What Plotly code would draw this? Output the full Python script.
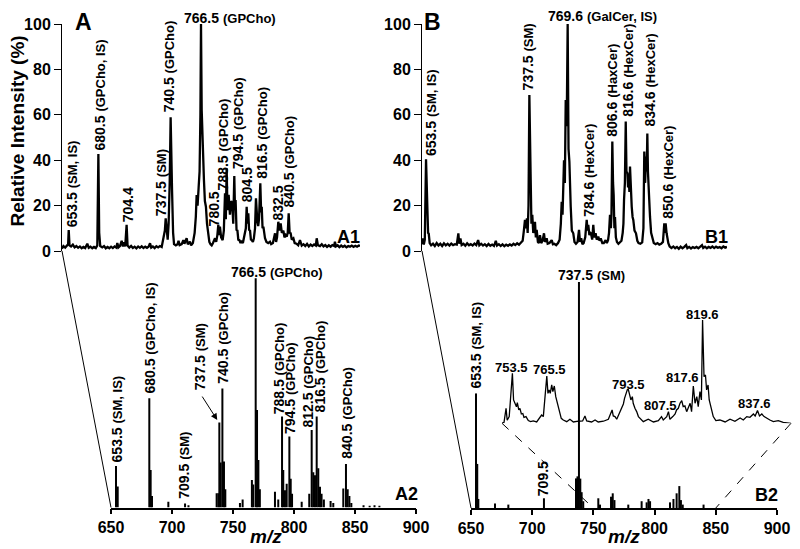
import plotly.graph_objects as go

# ---------------- DATA ----------------
# A1 profile spectrum (m/z, relative intensity %)
a1_mz = [647.8, 649, 650.5, 652, 653, 653.5, 654.2, 655.5, 657, 658.5, 660, 661.5, 663, 664.5, 666, 667.5,
         669.3, 670.5, 672, 673.5, 675, 676.5, 677.8, 678.7, 679.4, 680.3, 682, 683.5, 685, 686.5, 688, 689.5,
         691, 692.5, 694, 694.8, 695.8, 697, 698.5, 699.5, 700.5, 701.5, 702.7, 703.5, 705, 706.5, 708, 709.5,
         711, 712.5, 714, 715.5, 717, 718.5, 720, 721.5, 722.6, 723.6, 725, 726.5, 728, 729.5, 731, 732.5,
         733.9, 735.2, 735.9, 736.8, 737.6, 738.4, 739.3, 740.1, 740.7, 741.3, 742.2, 743, 744.5, 746, 746.8,
         747.8, 749.5, 750.9, 751.8, 753, 753.7, 754.7, 756.5, 757.5, 759, 760.5, 761.5, 762.2, 763, 763.9,
         764.7, 765.4, 765.9, 766.5, 767, 767.6, 768.4, 769.2, 770.1, 771, 772.1, 773, 774, 775, 776, 777.8,
         778.8, 779.8, 780.6, 781.3, 782, 783, 784.3, 785.3, 786.3, 787, 787.7, 788.4, 789.4, 790.5, 791.5,
         792.5, 793.3, 794.2, 794.8, 795.3, 796.1, 796.8, 797.6, 798.5, 799.5, 800.4, 801.5, 802.5, 803.3, 804,
         804.7, 805.4, 806.1, 806.8, 807.5, 808.3, 809, 810, 810.8, 811.8, 812.6, 813.2, 813.8, 814.5, 815.2,
         816.3, 817, 817.5, 818.2, 818.9, 819.6, 820.3, 821.5, 823, 824.5, 825.5, 827, 828.8, 829.7, 830.5,
         831.6, 832.5, 833.6, 834.6, 835.9, 836.8, 837.8, 838.7, 839.6, 840.4, 841.2, 842.1, 843, 844.4, 845.5,
         847, 848.5, 850, 851.5, 853, 854.5, 856, 857.5, 859, 860.5, 862, 863.5, 864.2, 865.2, 867, 868.5, 870,
         871.5, 873, 874.5, 876, 877.5, 879, 879.7, 880.6, 882, 883.5, 885, 886.5, 888, 889.5, 891, 892.5, 894,
         895.5, 897, 898.5, 900, 901]
a1_int = [1.0, 2.2, 1.5, 2.5, 3, 9.2, 2.5, 2.0, 2.8, 1.6, 2.2, 1.4, 2.0, 1.2, 1.8, 1.3,
          3.2, 1.4, 1.9, 1.2, 1.8, 1.3, 2.5, 42.7, 8, 2.2, 1.6, 2.2, 1.2, 1.8, 1.2, 1.9,
          1.3, 2.0, 1.5, 3.5, 1.6, 2.2, 4.5, 2.0, 3.8, 2.0, 11.5, 2.4, 1.5, 2.2, 1.3, 1.9,
          1.2, 2.0, 1.4, 2.1, 1.3, 1.9, 1.4, 2.0, 3.4, 1.5, 2.0, 1.3, 2.1, 1.6, 2.2, 1.8,
          5.5, 9, 14.4, 7, 5, 12, 30, 58.9, 27, 26.9, 8, 3, 2.5, 3.0, 4.5,
          2.6, 3, 4.8, 3.2, 5.0, 5.6, 3.0, 4.1, 2.5, 3.5, 8, 15, 24.7, 20, 28,
          35, 60, 100, 62, 51.1, 38, 31.3, 22, 19.5, 12, 7.8, 4, 3, 2.5, 3.4, 5.6,
          4, 7, 11.5, 7, 10.7, 6, 4.8, 9, 25.4, 14, 36.5, 18, 24.7, 16, 22,
          21, 12, 33, 18, 22.5, 9, 9.3, 5, 4.8, 3.5, 4.5, 3.5, 6, 7.8, 10,
          19.5, 12, 16.6, 9, 9.3, 5, 4.8, 4, 5.5, 10, 23.2, 13, 12.9, 11, 14,
          29.8, 17, 19.5, 10, 10.7, 6, 5.6, 4, 3.5, 4.1, 3, 3.5, 7.8, 4, 6,
          12.9, 9, 12.2, 8, 9, 6, 7, 6.3, 8, 16.6, 8, 7.8, 5, 5.6, 3.5,
          3.2, 2.5, 4.8, 2.4, 3.0, 2.2, 3.1, 2.0, 2.8, 2.2, 2.9, 2.4, 5.6, 2.6, 2.2, 3.0, 2.0,
          2.6, 1.8, 2.5, 1.9, 2.6, 2.2, 4.1, 2.0, 2.5, 1.7, 2.4, 1.8, 2.3, 1.6, 2.2, 1.9, 2.4,
          1.8, 2.3, 1.9, 2.4, 2.2]

# B1 profile spectrum
b1_mz = [650, 650.8, 651.5, 652.3, 653.3, 653.9, 654.4, 655, 655.5, 656.3, 657.5, 659, 660.5, 662, 663.5, 665,
         666.5, 668, 669.5, 671, 672.5, 674, 675.5, 677, 678.5, 679.8, 680.5, 681.5, 682.5, 684, 685.5, 687,
         688.5, 690, 691.5, 693, 694.5, 696, 697, 698.5, 700, 701.5, 703, 704.5, 706, 707.5, 709, 710.5, 711.5,
         713, 714.5, 716, 717.5, 719, 720.5, 722, 723.5, 725, 726.5, 728, 729.5, 731, 732.5, 733.5, 734.4,
         735.3, 736, 736.6, 737.3, 738, 738.5, 739.1, 739.7, 740.4, 741.2, 742, 742.6, 743.3, 744, 745, 745.8,
         746.7, 747.7, 748.8, 750, 750.8, 752.2, 753, 754.5, 756.3, 757.3, 758.5, 760, 761.5, 762.8, 763.8,
         764.5, 765.2, 766.4, 767.1, 767.8, 768.6, 769.4, 770.1, 770.8, 771.3, 771.9, 772.8, 774, 775, 776.2,
         777.5, 778.7, 779.5, 780.5, 781.5, 782.5, 783.8, 785, 785.7, 786.3, 787.2, 788, 788.5, 789.5, 790.4,
         791.2, 792.3, 793.2, 794.5, 795.5, 796.5, 797.8, 799, 800.5, 801.5, 802.5, 803.3, 804.1, 804.8, 805.3,
         806, 806.6, 807.1, 807.7, 808.2, 808.9, 809.8, 811, 812.5, 813.5, 814.5, 815.1, 815.6, 816.3, 817,
         817.6, 818.4, 818.9, 819.4, 820, 820.5, 821.2, 821.9, 822.6, 823.2, 824.2, 825.4, 826.5, 827.5, 829,
         830.5, 831.5, 832.2, 832.9, 833.6, 834.2, 834.7, 835.2, 835.8, 836.4, 836.9, 837.8, 838.8, 840, 841.5,
         843, 844.5, 846, 847.5, 848.6, 849.2, 849.7, 850.5, 851.3, 851.9, 853, 854.5, 856, 857.5, 859, 860.5,
         862, 863.5, 865, 866.5, 867.5, 869, 870.5, 872, 873.5, 875, 876.5, 878, 879.5, 880.5, 882, 883.5, 885,
         886.5, 888, 889.5, 891, 892.5, 894, 895.5, 897, 898.5, 900]
b1_int = [3, 5.5, 2.8, 5, 40.4, 22, 18.8, 8, 7.8, 3.5, 2.5, 3.2, 2.2, 3.5, 2.4, 3.2,
          2.2, 3.4, 2.5, 3.2, 2.4, 3.3, 2.6, 3.0, 2.8, 7.8, 3.2, 5.5, 2.6, 3.2, 2.3, 3.4,
          2.5, 3.0, 2.4, 3.3, 2.6, 4.8, 2.5, 3.2, 2.4, 3.0, 2.2, 3.1, 2.3, 2.8, 2.2, 4.5, 2.4,
          3.0, 2.2, 2.9, 2.1, 2.8, 2.3, 2.9, 2.4, 3.2, 2.6, 3.4, 2.8, 3.6, 4.5, 9, 13.7,
          10, 14.4, 8, 20, 68.7, 35, 31.3, 12, 15.9, 8, 9, 12.9, 6, 9.3, 4, 3.5,
          7.0, 3.5, 4.5, 7.8, 4, 5.6, 3.2, 3.5, 4.8, 3, 3.2, 2.6, 3.5, 5, 12,
          21.7, 16, 40, 30, 66.5, 55, 100, 45, 39.4, 25, 19.5, 9, 7.8, 4, 3.2,
          4, 9.3, 4, 5.6, 3, 3.5, 6, 13.7, 9, 11.5, 7, 8, 7.8, 5, 11.5,
          6, 7.8, 5, 6.3, 4.5, 5.6, 3.5, 3.5, 4.8, 3.5, 4.8, 8, 15.9, 10, 16,
          48.2, 30, 24.7, 10, 15, 6, 4, 3.2, 3.8, 4.5, 8, 12, 22.5, 30, 57,
          35, 34.2, 28, 32.7, 26, 37.2, 22, 19.5, 15, 13.7, 9, 7.8, 4.5, 3.5, 3.2,
          3.8, 10, 43.8, 30, 41.6, 35, 51.8, 35, 28.3, 15, 15, 8, 5.6, 3.5, 3.0,
          3.5, 2.8, 3.2, 4, 12.2, 8, 12.2, 7.8, 4, 3.4, 2.0, 1.3, 2.0, 1.2, 1.8, 1.0,
          1.9, 1.2, 1.8, 2.6, 1.2, 1.8, 1.1, 1.7, 1.3, 1.8, 1.2, 2.0, 2.6, 1.3, 1.9, 1.2, 1.8,
          1.4, 2.0, 1.3, 1.9, 1.4, 1.7, 1.2, 2.0, 1.5, 1.8]

# A2 centroid spectrum
a2_mz = [654.1, 655.5, 681.4, 682.5, 683.6, 697.0, 710.7, 713.5, 736.6, 738.0, 738.8, 739.9, 741.3, 742.6,
         743.7, 755.7, 757.9, 765.5, 766.6, 768.6, 769.7, 770.8, 772.0, 784.4, 787.1, 790.2, 791.2, 792.6,
         794.0, 796.2, 797.3, 798.4, 806.3, 812.5, 814.5, 815.8, 817.2, 818.6, 819.9, 821.3, 822.6, 824.5,
         830.0, 832.2, 840.4, 842.6, 844.0, 845.4, 847.0, 857.0, 862.0, 866.0, 870.0]
a2_int = [18.1, 9.1, 47.6, 16.3, 5.0, 2.5, 1.7, 1.0, 6.2, 6.2, 37.0, 19.6, 51.9, 20.0,
          8.0, 2.0, 3.5, 12.0, 10.0, 99.9, 42.5, 20.7, 8.0, 6.9, 3.5, 39.6, 16.3, 7.5,
          10.4, 30.9, 12.5, 6.0, 2.5, 6.0, 33.8, 15.4, 14.0, 39.6, 17.1, 9.0, 6.0, 3.5,
          2.8, 2.0, 8.3, 18.9, 8.0, 5.0, 2.0, 1.0, 0.8, 1.0, 0.8]

# B2 centroid spectrum
b2_mz = [654.1, 655.1, 656.0, 669.6, 680.5, 709.6, 735.8, 737.0, 738.2, 739.3, 740.4, 741.7, 754.0, 755.4,
         764.4, 765.8, 767.2, 778.5, 789.4, 793.5, 795.0, 796.3, 812.6, 815.4, 818.0, 820.2, 821.5, 823.0, 840.0]
b2_int = [50.7, 19.5, 4.0, 2.0, 1.5, 4.3, 13.1, 14.0, 100, 13.0, 7.0, 3.0, 4.3, 1.5,
          5.0, 6.5, 3.5, 1.5, 3.0, 2.5, 4.0, 3.0, 2.5, 4.0, 6.5, 9.7, 3.5, 1.5, 1.5]

# B2 expanded inset (m/z 750-850, relative to 819.6)
in_mz = [750, 750.7, 751.4, 751.8, 752.5, 753.6, 754.0, 754.5, 755.0, 755.3, 755.8, 756.2, 756.7, 757.2, 757.6,
         758.3, 759.1, 759.9, 760.8, 762, 762.9, 763.7, 764.3, 765, 765.5, 765.9, 766.3, 766.7, 767.2, 767.6,
         768.1, 768.6, 768.9, 769.4, 769.8, 770.5, 771.2, 772.4, 773.5, 774.7, 776.4, 777.9, 778.7, 779.3, 781,
         782.2, 783.3, 785.1, 786.8, 787.6, 788.1, 788.5, 789.1, 789.7, 790.5, 790.9, 791.4, 792, 792.4, 792.9,
         793.4, 793.7, 794.2, 794.6, 795.1, 795.4, 796, 796.6, 797.2, 798, 798.9, 800.6, 802.4, 804.1, 805.2,
         805.8, 807, 807.6, 808.1, 809.1, 809.9, 810.4, 811, 811.6, 812.2, 812.7, 813.3, 813.9, 814.5, 815.1,
         815.6, 816.2, 816.8, 817.4, 817.9, 818.5, 819, 819.4, 819.9, 820.4, 820.8, 821.3, 821.7, 822.2, 822.7,
         823.1, 824, 825.4, 827.2, 828.9, 830.6, 832.4, 833.5, 834.7, 835.8, 837, 837.6, 838.4, 839.1, 839.9,
         840.7, 841.6, 842.7, 843.9, 845.6, 847.3, 850]
in_int = [0, 1, 14.5, 3, 6.5, 48.4, 22.6, 19.4, 16, 20, 13, 14.5, 9, 9.5, 5.8,
          6.5, 2.6, 1.6, 2.3, 1.3, 4.8, 8, 6.5, 25.8, 45.8, 29, 32.3, 29, 37.1, 30.6,
          36.1, 25.8, 22.6, 14.5, 10.3, 4.8, 3.2, 1.6, 3.9, 1.3, 2, 2.3, 7.1, 2.3, 1.3,
          3.2, 1.3, 2, 3.9, 9.7, 12.9, 7.1, 6.5, 3.9, 9, 12.9, 16.1, 18.7, 24.2, 29,
          32.9, 32.9, 27.4, 22.6, 25.8, 19.4, 14.5, 11.3, 6.5, 3.9, 1.6, 3.9, 1.3, 2.6, 6.5,
          3.2, 6.5, 11.3, 3.9, 6.5, 9, 12.9, 14.5, 19.4, 21.9, 16.1, 16.8, 11.3, 16.1, 19.4,
          11.3, 36.1, 19.4, 25.8, 16.1, 30.6, 22.6, 100, 45.2, 46.8, 32.3, 37.1, 22.6, 16.1, 9.7,
          6.5, 2.6, 3.2, 1.3, 3.9, 2, 5.2, 3.2, 6.5, 5.8, 9, 7.1, 12.3, 7.1, 9,
          6.5, 4.8, 3.2, 1.6, 2.6, 1, 0]

x_ticks = [650, 700, 750, 800, 850, 900]
y_ticks = [0, 20, 40, 60, 80, 100]

# Peak labels: (number, assignment)
a1_labels = [("653.5", "(SM, IS)"), ("680.5", "(GPCho, IS)"), ("704.4", ""), ("737.5", "(SM)"),
             ("740.5", "(GPCho)"), ("780.5", ""), ("788.5", "(GPCho)"), ("794.5", "(GPCho)"),
             ("804.5", ""), ("816.5", "(GPCho)"), ("832.5", ""), ("840.5", "(GPCho)")]
b1_labels = [("653.5", "(SM, IS)"), ("737.5", "(SM)"), ("784.6", "(HexCer)"), ("806.6", "(HaxCer)"),
             ("816.6", "(HexCer)"), ("834.6", "(HexCer)"), ("850.6", "(HexCer)")]
a2_labels = [("653.5", "(SM, IS)"), ("680.5", "(GPCho, IS)"), ("709.5", "(SM)"), ("737.5", "(SM)"),
             ("740.5", "(GPCho)"), ("788.5", "(GPCho)"), ("794.5", "(GPCho)"), ("812.5", "(GPCho)"),
             ("816.5", "(GPCho)"), ("840.5", "(GPCho)")]
b2_labels = [("653.5", "(SM, IS)"), ("709.5", "")]
in_labels = ["753.5", "765.5", "793.5", "807.5", "817.6", "819.6", "837.6"]
top_labels = {"A1": ("766.5", "(GPCho)"), "B1": ("769.6", "(GalCer, IS)"),
              "A2": ("766.5", "(GPCho)"), "B2": ("737.5", "(SM)")}

# ---------------- LAYOUT (positions) ----------------
W, H = 800, 549
OFF = 8  # page body margin offset of the plot inside the browser window
# pixel domains (window pixels): x=(left,right), y=(bottom,top)
P = {
    "A1": dict(x=(62, 360), y=(251, 24), xr=(647.8, 901), yr=(0, 100), ax="x", ay="y"),
    "B1": dict(x=(422, 727), y=(251, 24), xr=(650, 900), yr=(0, 100), ax="x2", ay="y2"),
    "A2": dict(x=(111, 416), y=(507.5, 278), xr=(650, 900), yr=(0, 100), ax="x3", ay="y3"),
    "B2": dict(x=(471, 777), y=(508, 282), xr=(650, 900), yr=(0, 100), ax="x4", ay="y4"),
    "IN": dict(x=(502, 791), y=(423.3, 320), xr=(750, 850), yr=(0, 100), ax="x5", ay="y5"),
}

# label placement (x center in data, y bottom in data) for rotated labels
a1_pos = [(656.0, 10.1), (680.1, 43.6), (703.6, 12.3), (732.5, 15.0), (739.0, 60.8), (776.9, 10.6),
          (784.3, 26.1), (797.8, 35.5), (804.7, 21.1), (817.5, 31.3), (831.6, 12.9), (840.9, 18.8)]
b1_pos = [(658.0, 41.5), (737.1, 70.2), (786.3, 14.5), (806.0, 49.8), (819.1, 58.6), (836.9, 54.2),
          (851.9, 13.7)]
a2_pos = [(654.7, 19.3), (682.0, 49.0), (710.1, 3.3), (723.0, 50.5), (741.6, 53.4), (788.0, 40.3),
          (796.7, 31.6), (811.7, 34.5), (821.3, 41.0), (843.2, 20.7)]
b2_pos = [(654.1, 52.2), (708.8, 5.0)]
in_pos = [(753.4, 54.2), (766.4, 51.6), (793.7, 38.0), (804.7, 17.0), (812.5, 44.5), (819.4, 105.8),
          (837.5, 18.7)]
top_pos = {"A1": (750.6, 102.6), "B1": (752.2, 103.5), "A2": (747.5, 102.7), "B2": (720.0, 103.1)}

FONT = "Liberation Sans, Arial, sans-serif"


def fx(px):
    return (px - OFF) / W


def fy(py):
    return 1 - (py - OFF) / H


def dom_x(p):
    return [fx(p["x"][0]), fx(p["x"][1])]


def dom_y(p):
    return [fy(p["y"][0]), fy(p["y"][1])]


def to_paper(key, x, y):
    p = P[key]
    ux = (x - p["xr"][0]) / (p["xr"][1] - p["xr"][0])
    uy = (y - p["yr"][0]) / (p["yr"][1] - p["yr"][0])
    px = p["x"][0] + ux * (p["x"][1] - p["x"][0])
    py = p["y"][0] + uy * (p["y"][1] - p["y"][0])
    return fx(px), fy(py)


def sticks(mz, inten):
    xs, ys = [], []
    for m, h in zip(mz, inten):
        xs += [m, m, None]
        ys += [0, h, None]
    return xs, ys


fig = go.Figure()
fig.add_trace(go.Scatter(x=a1_mz, y=a1_int, mode="lines", line=dict(color="black", width=2.3),
                         xaxis="x", yaxis="y"))
fig.add_trace(go.Scatter(x=b1_mz, y=b1_int, mode="lines", line=dict(color="black", width=2.3),
                         xaxis="x2", yaxis="y2"))
xs, ys = sticks(a2_mz, a2_int)
fig.add_trace(go.Scatter(x=xs, y=ys, mode="lines", line=dict(color="black", width=2),
                         xaxis="x3", yaxis="y3"))
xs, ys = sticks(b2_mz, b2_int)
fig.add_trace(go.Scatter(x=xs, y=ys, mode="lines", line=dict(color="black", width=2),
                         xaxis="x4", yaxis="y4"))
fig.add_trace(go.Scatter(x=in_mz, y=in_int, mode="lines", line=dict(color="black", width=1.3),
                         xaxis="x5", yaxis="y5"))

hidden = dict(visible=False, showgrid=False, zeroline=False)
yvis = dict(showline=True, linecolor="black", linewidth=1, ticks="outside", ticklen=7, tickwidth=1,
            tickcolor="black", tickvals=y_ticks, showgrid=False, zeroline=False,
            tickfont=dict(family=FONT, size=16, color="black", weight="bold"))
xvis = dict(showline=True, linecolor="black", linewidth=1.5, ticks="outside", ticklen=5, tickwidth=1.5,
            tickcolor="black", tickvals=x_ticks, showgrid=False, zeroline=False,
            tickfont=dict(family=FONT, size=16, color="black", weight="bold"))

fig.update_layout(
    width=W, height=H, margin=dict(l=0, r=0, t=0, b=0),
    paper_bgcolor="white", plot_bgcolor="rgba(0,0,0,0)", template="none", showlegend=False,
    xaxis=dict(domain=dom_x(P["A1"]), range=list(P["A1"]["xr"]), anchor="y", **hidden),
    yaxis=dict(domain=dom_y(P["A1"]), range=[0, 100], anchor="x", **yvis),
    xaxis2=dict(domain=dom_x(P["B1"]), range=list(P["B1"]["xr"]), anchor="y2", **hidden),
    yaxis2=dict(domain=dom_y(P["B1"]), range=[0, 100], anchor="x2", **yvis),
    xaxis3=dict(domain=dom_x(P["A2"]), range=list(P["A2"]["xr"]), anchor="y3", **xvis),
    yaxis3=dict(domain=dom_y(P["A2"]), range=[0, 100], anchor="x3", **hidden),
    xaxis4=dict(domain=dom_x(P["B2"]), range=list(P["B2"]["xr"]), anchor="y4", **xvis),
    yaxis4=dict(domain=dom_y(P["B2"]), range=[0, 100], anchor="x4", **hidden),
    xaxis5=dict(domain=dom_x(P["IN"]), range=list(P["IN"]["xr"]), anchor="y5", **hidden),
    yaxis5=dict(domain=dom_y(P["IN"]), range=[0, 100], anchor="x5", **hidden),
)

ann = []
lab_font = dict(family=FONT, size=14, color="black", weight="bold")


def lab_text(num, assign):
    if assign:
        return f"{num} <span style='font-size:13px'>{assign}</span>"
    return num


def add_rot(key, labels, pos):
    for (num, assign), (x, y) in zip(labels, pos):
        px, py = to_paper(key, x, y)
        ann.append(dict(x=px, y=py, xref="paper", yref="paper", text=lab_text(num, assign), textangle=-90,
                        showarrow=False, xanchor="center", yanchor="bottom", font=lab_font, borderpad=0))


add_rot("A1", a1_labels, a1_pos)
add_rot("B1", b1_labels, b1_pos)
add_rot("A2", a2_labels, a2_pos)
add_rot("B2", b2_labels, b2_pos)

for key, (num, assign) in top_labels.items():
    px, py = to_paper(key, *top_pos[key])
    ann.append(dict(x=px, y=py, xref="paper", yref="paper", text=lab_text(num, assign), showarrow=False,
                    xanchor="left", yanchor="middle", font=lab_font, borderpad=0))

for t, (x, y) in zip(in_labels, in_pos):
    px, py = to_paper("IN", x, y)
    ann.append(dict(x=px, y=py, xref="paper", yref="paper", text=t, showarrow=False, xanchor="center",
                    yanchor="middle", font=dict(family=FONT, size=13, color="black", weight="bold"),
                    borderpad=0))

# arrow pointing to 737.5 in A2
ann.append(dict(x=737.1, y=38.1, xref="x3", yref="y3", text="", showarrow=True, ax=-16, ay=-25,
                arrowhead=2, arrowsize=1.3, arrowwidth=1, arrowcolor="black"))

# panel tags A, B (top-anchored so they stay inside the figure)
big = dict(family=FONT, size=23, color="black", weight="bold")
for t, cx in (("A", 83), ("B", 432.5)):
    ann.append(dict(x=fx(cx), y=1.0, xref="paper", yref="paper", text=t, showarrow=False,
                    xanchor="center", yanchor="top", font=big, borderpad=0))

mid = dict(family=FONT, size=18, color="black", weight="bold")
for t, (px, py) in [("A1", (348.5, 237)), ("B1", (716.5, 237)), ("A2", (406, 494)), ("B2", (766.5, 495))]:
    ann.append(dict(x=fx(px), y=fy(py), xref="paper", yref="paper", text=t, showarrow=False,
                    xanchor="center", yanchor="middle", font=mid))

# axis titles
ann.append(dict(x=fx(17), y=fy(131.5), xref="paper", yref="paper", text="Relative Intensity (%)",
                textangle=-90, showarrow=False, xanchor="center", yanchor="middle",
                font=dict(family=FONT, size=19, color="black", weight="bold")))
for cx in (265.5, 624):
    ann.append(dict(x=fx(cx), y=fy(536.5), xref="paper", yref="paper", text="<i>m/z</i>",
                    showarrow=False, xanchor="center", yanchor="middle",
                    font=dict(family=FONT, size=19, color="black", weight="bold")))

fig.update_layout(annotations=ann)

# connector lines
shapes = []
for top, bot in (("A1", "A2"), ("B1", "B2")):
    x0, y0 = to_paper(top, P[top]["xr"][0], 0)
    x1, y1 = to_paper(bot, P[bot]["xr"][0], 0)
    shapes.append(dict(type="line", xref="paper", yref="paper", x0=x0, y0=y0, x1=x1, y1=y1,
                       line=dict(color="black", width=1)))
for m in P["IN"]["xr"]:
    x0, y0 = to_paper("IN", m, 0)
    x1, y1 = to_paper("B2", m, 0)
    shapes.append(dict(type="line", xref="paper", yref="paper", x0=x0, y0=y0, x1=x1, y1=y1,
                       line=dict(color="black", width=1, dash="dash")))
fig.update_layout(shapes=shapes)

fig.write_html("out.html")
